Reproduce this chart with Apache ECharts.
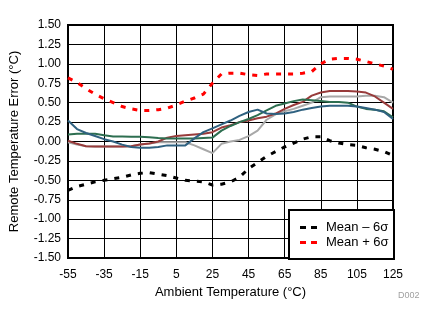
<!DOCTYPE html>
<html>
<head>
<meta charset="utf-8">
<script src="https://cdn.jsdelivr.net/npm/echarts@6/dist/echarts.min.js"></script>
<style>
html,body{margin:0;padding:0;background:#fff;}
#c{width:437px;height:324px;}
</style>
</head>
<body>
<div id="c"></div>
<script>
var temps = [-55,-50,-45,-40,-35,-30,-25,-20,-15,-10,-5,0,5,10,15,20,25,30,35,40,45,50,55,60,65,70,75,80,85,90,95,100,105,110,115,120,125];
var xTickLabels = ['-55','-35','-15','5','25','45','65','85','105','125'];

var unitGray  = [-0.01,-0.04,-0.06,-0.065,-0.065,-0.065,-0.065,-0.06,-0.04,-0.025,-0.01,-0.01,-0.01,-0.01,-0.05,-0.10,-0.15,-0.03,0.00,0.02,0.07,0.14,0.28,0.35,0.39,0.42,0.46,0.50,0.57,0.58,0.58,0.58,0.58,0.59,0.59,0.57,0.50];
var unitRed   = [0.01,-0.03,-0.06,-0.065,-0.065,-0.065,-0.065,-0.06,-0.04,-0.025,0.00,0.05,0.07,0.08,0.09,0.10,0.12,0.18,0.21,0.25,0.27,0.30,0.32,0.36,0.42,0.47,0.51,0.59,0.63,0.65,0.65,0.65,0.645,0.63,0.58,0.50,0.42];
var unitGreen = [0.09,0.10,0.10,0.10,0.08,0.065,0.065,0.06,0.06,0.055,0.045,0.04,0.04,0.04,0.04,0.045,0.05,0.14,0.20,0.25,0.29,0.34,0.40,0.46,0.49,0.52,0.54,0.53,0.52,0.51,0.51,0.50,0.45,0.42,0.41,0.39,0.31];
var unitBlue  = [0.27,0.16,0.11,0.07,0.03,0.00,-0.04,-0.07,-0.08,-0.08,-0.07,-0.05,-0.05,-0.05,0.04,0.12,0.17,0.22,0.27,0.33,0.38,0.41,0.36,0.355,0.36,0.38,0.41,0.43,0.45,0.46,0.46,0.46,0.45,0.43,0.41,0.38,0.29];
var meanMinus6s = [-0.63,-0.58,-0.55,-0.52,-0.50,-0.48,-0.46,-0.43,-0.41,-0.40,-0.42,-0.44,-0.47,-0.50,-0.51,-0.52,-0.56,-0.55,-0.52,-0.46,-0.35,-0.27,-0.19,-0.13,-0.07,-0.02,0.03,0.06,0.06,0.01,-0.02,-0.04,-0.05,-0.08,-0.10,-0.13,-0.18];
var meanPlus6s  = [0.82,0.76,0.68,0.61,0.55,0.50,0.45,0.42,0.40,0.40,0.41,0.43,0.47,0.52,0.56,0.61,0.75,0.87,0.88,0.88,0.86,0.85,0.87,0.87,0.87,0.87,0.88,0.90,1.00,1.06,1.07,1.07,1.06,1.03,1.00,0.97,0.93];

var chart = echarts.init(document.getElementById('c'), null, {renderer:'canvas'});
var FONT = '"Liberation Sans", Arial, sans-serif';
function solid(name, data, color){
  return {name:name, type:'line', data:data, symbol:'none', smooth:false,
    lineStyle:{color:color, width:2}, itemStyle:{color:color}, z:2, silent:true};
}
function dashed(name, data, color){
  return {name:name, type:'line', data:data, symbol:'none', smooth:false,
    lineStyle:{color:color, width:3, type:[5,7]}, itemStyle:{color:color}, z:3, silent:true};
}
chart.setOption({
  animation:false,
  backgroundColor:'#fff',
  grid:{left:62, top:25, right:44, bottom:66, show:true, borderColor:'#000', borderWidth:2, backgroundColor:'transparent'},
  xAxis:{
    type:'category', data:temps, boundaryGap:false,
    name:'Ambient Temperature (°C)', nameLocation:'middle', nameGap:26,
    nameTextStyle:{fontFamily:FONT, fontSize:13, color:'#000'},
    axisLine:{show:false}, axisTick:{show:false},
    axisLabel:{interval:3, fontFamily:FONT, fontSize:12, color:'#000', margin:11},
    splitLine:{show:true, interval:3, lineStyle:{color:'#000', width:1}}
  },
  yAxis:{
    type:'value', min:-1.5, max:1.5, interval:0.25,
    name:'Remote Temperature Error (°C)', nameLocation:'middle', nameGap:47,
    nameTextStyle:{fontFamily:FONT, fontSize:13, color:'#000'},
    axisLine:{show:false}, axisTick:{show:false},
    axisLabel:{fontFamily:FONT, fontSize:12, color:'#000', margin:7, formatter:function(v){return v.toFixed(2);}},
    splitLine:{show:true, lineStyle:{color:'#000', width:1}}
  },
  legend:{
    data:['Mean – 6σ','Mean + 6σ'], orient:'vertical', left:295, top:216, z:30,
    itemWidth:17, itemHeight:3, itemGap:2,
    icon:'path://M0,0H6V3H0Z M11,0H17V3H11Z',
    textStyle:{fontFamily:FONT, fontSize:13, color:'#000', padding:[0,0,0,4]},
    selectedMode:false
  },
  graphic:[
    {type:'rect', left:288, top:209, shape:{width:105, height:49}, style:{fill:'#fff', stroke:'#000', lineWidth:2}, z:10},
    {type:'text', left:398, top:291, style:{text:'D002', fontFamily:FONT, fontSize:9, fill:'#A0A0A0'}}
  ],
  series:[
    solid('g', unitGray, '#A8A8A8'),
    solid('r', unitRed, '#983B3B'),
    solid('gr', unitGreen, '#2D6E50'),
    solid('b', unitBlue, '#2F6180'),
    dashed('Mean – 6σ', meanMinus6s, '#000000'),
    dashed('Mean + 6σ', meanPlus6s, '#FF0000')
  ]
});
</script>
</body>
</html>
